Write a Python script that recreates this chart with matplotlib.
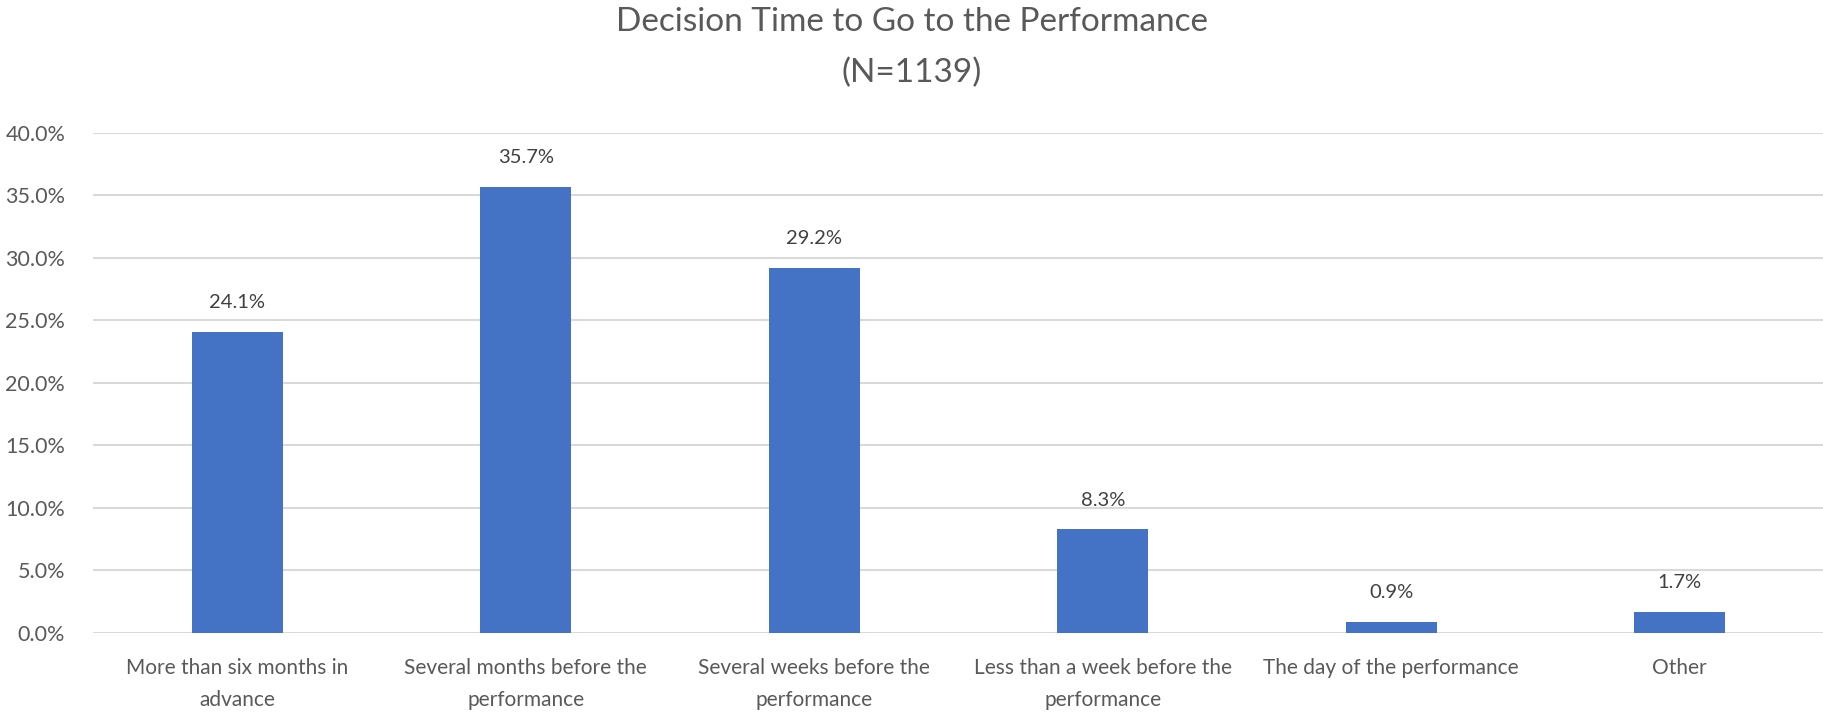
import matplotlib.pyplot as plt
from matplotlib.ticker import FuncFormatter

# Dados
categorias = ['More than six months in\nadvance',
              'Several months before the\nperformance',
              'Several weeks before the\nperformance',
              'Less than a week before the\nperformance',
              'The day of the performance',
              'Other']
valores = [24.1, 35.7, 29.2, 8.3, 0.9, 1.7]
titulo = 'Decision Time to Go to the Performance\n(N=1139)'

cor_barra = '#4472C4'
cor_texto = '#595959'

plt.rcParams['font.family'] = ['Lato', 'DejaVu Sans']

fig = plt.figure(figsize=(18.24, 7.17), dpi=100)
ax = fig.add_axes([0.051, 0.1172, 0.949, 0.6973])

x = range(len(categorias))
barras = ax.bar(x, valores, width=0.315, color=cor_barra, zorder=3)

# Rotulos das barras
for bar, v in zip(barras, valores):
    ax.annotate(f'{v:.1f}%', xy=(bar.get_x() + bar.get_width() / 2, v),
                xytext=(0, 21), textcoords='offset points', ha='center', va='center',
                fontsize=14.5, color='#404040')

ax.set_xlim(-0.5, len(categorias) - 0.5)
ax.set_ylim(0, 40)
ax.set_yticks(range(0, 41, 5))
ax.yaxis.set_major_formatter(FuncFormatter(lambda v, p: f'{v:.1f}%'))
ax.set_xticks(list(x))
ax.set_xticklabels(categorias, fontsize=15, color=cor_texto, linespacing=1.75)
ax.tick_params(axis='y', labelsize=15.5, labelcolor=cor_texto, length=0, pad=20)
ax.tick_params(axis='x', length=0, pad=18)

ax.grid(axis='y', color='#d9d9d9', linewidth=1.5, zorder=0)
for s in ax.spines.values():
    s.set_visible(False)

fig.text(0.5, 0.99, titulo, ha='center', va='top', fontsize=24, color=cor_texto,
         linespacing=1.85)

fig.savefig('out.png', dpi=100)
